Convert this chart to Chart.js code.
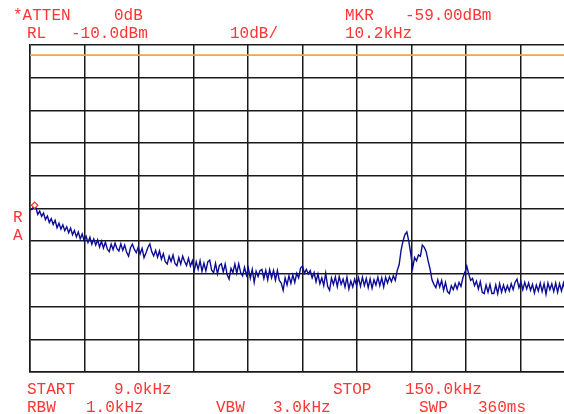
<!DOCTYPE html>
<html>
<head>
<meta charset="utf-8">
<script src="https://cdn.jsdelivr.net/npm/chart.js"></script>
<style>
html,body{margin:0;padding:0;background:#fff;overflow:hidden;width:564px;height:414px}
#wrap{position:relative;width:564px;height:414px;overflow:hidden}
#chart{position:absolute;left:0;top:0}
#labels{position:absolute;left:0;top:0}
#labels text{font-family:"Liberation Mono","DejaVu Sans Mono",monospace;font-size:16px;fill:#ff3535}
</style>
</head>
<body>
<div id="wrap">
<canvas id="chart" width="590" height="414"></canvas>
<svg id="labels" width="564" height="414"></svg>
</div>
<script>
// sweep settings
const START_KHZ=9.0
const STOP_KHZ=150.0
const STEP_KHZ=0.5
const REF_LEVEL=-10
const DB_PER_DIV=10
const LIMIT_LINE=[-13.1,-13.1]
const MKR_KHZ=10.2
const MKR_DBM=-59.0

// trace levels in dBm, one every 0.5 kHz from 9.0 kHz
const LEVELS=[
-60.4,-60.3,-59.2,-59.6,-61.8,-60.8,-62.4,-61.4,-63.4,-62.3,
-64.3,-63.1,-64.9,-63.6,-65.9,-64.5,-66.3,-65.0,-66.8,-65.6,
-67.4,-66.0,-68.0,-66.7,-68.7,-67.2,-69.3,-67.8,-69.8,-68.5,
-70.4,-68.8,-70.9,-69.3,-71.2,-69.6,-71.8,-70.0,-72.1,-70.3,
-72.4,-73.2,-70.9,-72.6,-70.6,-72.3,-73.0,-70.8,-72.8,-71.2,
-73.4,-74.6,-72.0,-70.9,-72.5,-73.5,-71.8,-73.9,-72.2,-75.0,
-73.6,-71.9,-70.8,-73.2,-74.5,-72.8,-74.9,-73.0,-75.5,-73.8,
-76.3,-77.0,-74.6,-76.2,-74.2,-76.8,-77.5,-75.0,-77.0,-74.6,
-76.2,-77.4,-75.2,-77.6,-76.0,-79.0,-76.3,-78.6,-76.0,-79.2,
-76.7,-79.1,-76.3,-75.8,-78.9,-79.6,-76.8,-80.0,-77.4,-76.9,
-79.4,-77.0,-80.2,-81.6,-78.3,-79.6,-77.0,-79.8,-76.9,-79.6,
-80.6,-78.0,-80.4,-78.2,-81.3,-78.6,-82.6,-79.2,-80.8,-79.0,
-78.6,-81.4,-78.9,-81.8,-78.7,-81.2,-78.9,-81.9,-79.0,-82.0,
-82.8,-85.0,-81.2,-83.4,-80.6,-82.9,-80.3,-82.6,-79.8,-81.2,
-78.2,-77.6,-79.8,-78.6,-80.0,-79.0,-81.2,-79.6,-82.4,-80.0,
-83.0,-81.2,-83.6,-79.8,-83.8,-85.0,-81.3,-83.2,-80.9,-83.9,
-80.8,-83.2,-81.6,-84.0,-81.0,-84.6,-82.2,-84.0,-81.6,-83.6,
-81.2,-83.8,-81.0,-83.6,-81.4,-84.2,-81.5,-84.4,-81.8,-83.4,
-81.0,-83.6,-81.2,-84.0,-81.0,-82.8,-80.9,-82.4,-80.6,-82.0,
-79.0,-77.2,-72.8,-70.0,-68.0,-67.2,-70.0,-73.8,-78.2,-75.0,
-76.0,-74.2,-74.6,-71.2,-71.9,-73.2,-76.0,-78.5,-81.8,-83.2,
-84.2,-81.8,-84.0,-82.0,-85.0,-82.6,-85.4,-86.0,-83.6,-84.8,
-83.0,-84.6,-82.6,-83.8,-81.2,-79.6,-77.6,-80.0,-82.0,-81.4,
-83.6,-82.2,-84.6,-82.4,-85.6,-86.0,-83.4,-85.6,-83.2,-86.0,
-86.0,-83.4,-86.0,-83.0,-85.6,-83.4,-85.4,-83.6,-85.2,-83.0,
-84.8,-82.6,-81.6,-84.2,-82.4,-84.8,-82.6,-84.6,-82.8,-85.0,
-83.2,-85.8,-83.4,-85.2,-82.8,-85.4,-83.0,-86.2,-82.8,-84.8,
-83.0,-85.4,-82.8,-85.6,-83.0,-85.2,-82.8,-85.4,-83.4,-85.0,
-83.0,-85.2,-83.6
]

// header / footer annotation text: [text, x, baseline]
const LABELS=[
["*ATTEN",13,20],["0dB",114,20],["MKR",345,20],[MKR_DBM.toFixed(2)+"dBm",405,20],
["RL",27,38],[REF_LEVEL.toFixed(1)+"dBm",71,38],[DB_PER_DIV+"dB/",230,38],[MKR_KHZ.toFixed(1)+"kHz",345,38],
["R",13,222],["A",13,240],
["START",27,394],[START_KHZ.toFixed(1)+"kHz",114,394],["STOP",333,394],[STOP_KHZ.toFixed(1)+"kHz",405,394],
["RBW",27,412],["1.0kHz",86,412],["VBW",216,412],["3.0kHz",273,412],["SWP",419,412],["360ms",478,412]
]

const svg=document.getElementById("labels")
LABELS.forEach(l=>{
const t=document.createElementNS("http://www.w3.org/2000/svg","text")
t.setAttribute("x",l[1])
t.setAttribute("y",l[2])
t.textContent=l[0]
svg.appendChild(t)
})

const trace=LEVELS.map((v,i)=>({x:START_KHZ+i*STEP_KHZ,y:v}))

new Chart(document.getElementById("chart"),{
type:"line",
data:{datasets:[
{data:[{x:MKR_KHZ,y:MKR_DBM}],showLine:false,pointStyle:"rectRot",pointRadius:3.2,borderColor:"#ff3030",backgroundColor:"#fff",borderWidth:1.2},
{data:[{x:START_KHZ,y:LIMIT_LINE[0]},{x:STOP_KHZ,y:LIMIT_LINE[1]}],borderColor:"#f7a24a",borderWidth:1.8,pointRadius:0},
{data:trace,borderColor:"#0c0c96",borderWidth:1.4,pointRadius:0,tension:0}
]},
options:{
responsive:false,
animation:false,
layout:{padding:{left:30,top:45,right:15,bottom:42}},
plugins:{legend:{display:false},tooltip:{enabled:false}},
scales:{
x:{type:"linear",min:START_KHZ,max:STOP_KHZ,
ticks:{display:false,stepSize:(STOP_KHZ-START_KHZ)/10},
grid:{color:"#1a1a1a",lineWidth:1.5,drawTicks:false},
border:{color:"#1a1a1a",width:1.5}},
y:{min:REF_LEVEL-10*DB_PER_DIV,max:REF_LEVEL,
ticks:{display:false,stepSize:DB_PER_DIV},
grid:{color:"#1a1a1a",lineWidth:1.5,drawTicks:false},
border:{color:"#1a1a1a",width:1.5}}
}
}
})
</script>
</body>
</html>
